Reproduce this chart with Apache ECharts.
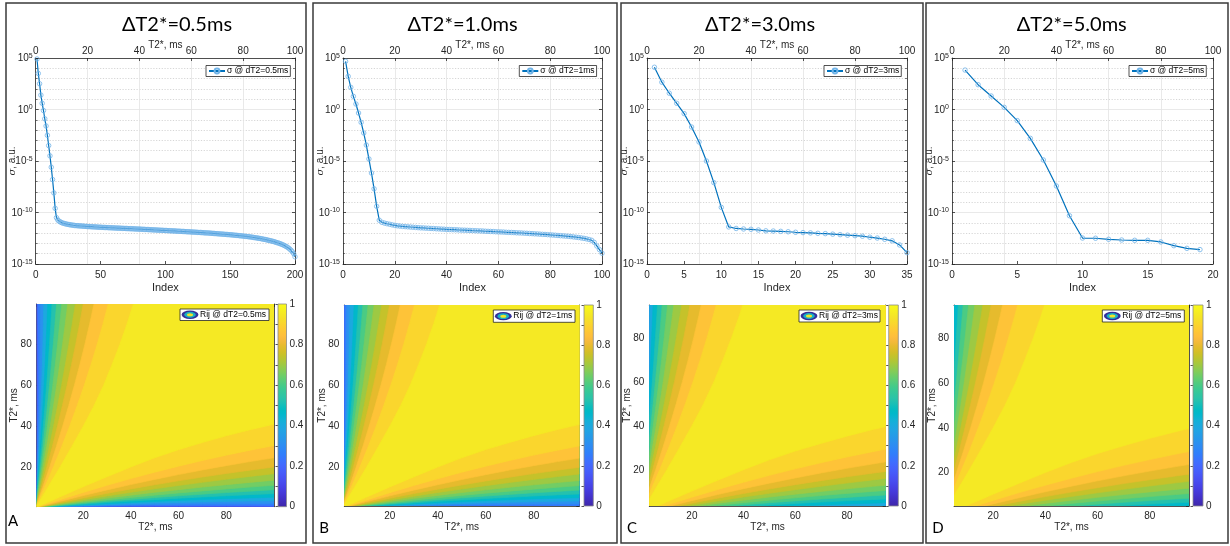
<!DOCTYPE html>
<html><head><meta charset="utf-8">
<script src="https://cdn.jsdelivr.net/npm/echarts@6/dist/echarts.min.js"></script>
<style>html,body{margin:0;padding:0;background:#fff}#c{width:1230px;height:546px}</style>
</head><body><div id="c"></div>
<script>
// ---------------- DATA ----------------
const panelTitles = ['ΔT2*=0.5ms', 'ΔT2*=1.0ms', 'ΔT2*=3.0ms', 'ΔT2*=5.0ms'];
const panelLetters = ['A', 'B', 'C', 'D'];
const sigmaLegend = ['σ @ dT2=0.5ms', 'σ @ dT2=1ms', 'σ @ dT2=3ms', 'σ @ dT2=5ms'];
const rijLegend = ['Rij @ dT2=0.5ms', 'Rij @ dT2=1ms', 'Rij @ dT2=3ms', 'Rij @ dT2=5ms'];
const indexAxisMax = [200, 100, 35, 20];
const indexAxisStep = [50, 20, 5, 5];
const t2TopAxis = [0, 100, 20];           // min, max, step of the T2* axis above the σ plots
const sigmaExpAxis = [-15, 5, 5];         // log10 range of σ axis and label step
const heatT2Min = [0.5, 1, 3.5, 5];
const heatT2Max = [100, 99, 95, 95];

// log10(σ), index 1..N
const sigmaLog10A = [4.9, 3.5, 2.5, 1.4, 0.6, -0.1, -0.9, -1.6, -2.5, -3.5, -4.5, -5.6, -6.8, -8.1, -9.6, -10.5,
  -10.72, -10.84, -10.92, -10.98, -11.03, -11.07, -11.1, -11.13, -11.16, -11.18, -11.2, -11.22, -11.24, -11.26,
  -11.27, -11.28, -11.29, -11.3, -11.31, -11.32, -11.33, -11.34, -11.35, -11.36,
  -11.37, -11.37, -11.38, -11.39, -11.4, -11.4, -11.41, -11.42, -11.43, -11.43,
  -11.44, -11.45, -11.45, -11.46, -11.46, -11.47, -11.48, -11.48, -11.49, -11.49,
  -11.5, -11.51, -11.51, -11.52, -11.52, -11.53, -11.54, -11.54, -11.55, -11.55,
  -11.56, -11.57, -11.57, -11.58, -11.58, -11.59, -11.6, -11.6, -11.61, -11.61,
  -11.62, -11.63, -11.63, -11.64, -11.65, -11.65, -11.66, -11.67, -11.67, -11.68,
  -11.69, -11.69, -11.7, -11.71, -11.71, -11.72, -11.73, -11.73, -11.74, -11.75,
  -11.75, -11.76, -11.77, -11.77, -11.78, -11.79, -11.79, -11.8, -11.81, -11.82,
  -11.82, -11.83, -11.84, -11.84, -11.85, -11.86, -11.87, -11.87, -11.88, -11.89,
  -11.9, -11.9, -11.91, -11.92, -11.93, -11.94, -11.94, -11.95, -11.96, -11.97,
  -11.98, -11.98, -11.99, -12.0, -12.01, -12.02, -12.03, -12.04, -12.05, -12.06,
  -12.07, -12.08, -12.09, -12.1, -12.11, -12.12, -12.13, -12.14, -12.15, -12.16,
  -12.17, -12.18, -12.2, -12.21, -12.22, -12.23, -12.25, -12.26, -12.27, -12.29,
  -12.3, -12.32, -12.33, -12.35, -12.36, -12.38, -12.4, -12.42, -12.44, -12.46,
  -12.48, -12.5, -12.52, -12.55, -12.57, -12.6, -12.62, -12.65, -12.68, -12.71,
  -12.74, -12.77, -12.8, -12.84, -12.88, -12.92, -12.96, -13.0, -13.05, -13.1,
  -13.16, -13.22, -13.29, -13.36, -13.45, -13.55, -13.67, -13.82, -14.0, -14.3];
const sigmaLog10B = [4.68, 3.22, 2.15, 1.28, 0.53, -0.34, -1.25, -2.28, -3.45, -4.8, -6.17, -7.7, -9.4, -10.75,
  -10.95, -11.03, -11.09, -11.14, -11.2, -11.25,
  -11.29, -11.32, -11.35, -11.37, -11.39, -11.41, -11.43, -11.45, -11.47, -11.49,
  -11.5, -11.52, -11.53, -11.55, -11.56, -11.58, -11.59, -11.61, -11.62, -11.64,
  -11.65, -11.66, -11.67, -11.68, -11.7, -11.71, -11.72, -11.73, -11.74, -11.76,
  -11.77, -11.78, -11.79, -11.8, -11.82, -11.83, -11.84, -11.85, -11.87, -11.88,
  -11.89, -11.9, -11.92, -11.93, -11.94, -11.95, -11.97, -11.98, -11.99, -12.01,
  -12.02, -12.04, -12.05, -12.07, -12.08, -12.1, -12.12, -12.13, -12.15, -12.17,
  -12.19, -12.21, -12.23, -12.25, -12.27, -12.29, -12.31, -12.34, -12.37, -12.4,
  -12.43, -12.47, -12.51, -12.56, -12.62, -12.7, -12.9, -13.25, -13.6, -13.95];
const sigmaLog10C = [4.1, 2.65, 1.58, 0.6, -0.4, -1.7, -3.15, -5.0, -7.1, -9.5, -11.4,
  -11.55, -11.6, -11.63, -11.7, -11.78, -11.8, -11.83, -11.87, -11.92, -11.95, -11.98, -12.02,
  -12.05, -12.1, -12.15, -12.2, -12.25, -12.3, -12.4, -12.48, -12.6, -12.75, -13.15, -13.9];
const sigmaLog10D = [3.83, 2.41, 1.31, 0.21, -1.08, -2.8, -4.9, -7.43, -10.31, -12.48,
  -12.5, -12.6, -12.67, -12.7, -12.7, -12.86, -13.22, -13.48, -13.6];

// Rij contour levels and their boundary (below the diagonal: T2j at given T2i; symmetric above)
const rijX = [0, 10, 20, 30, 40, 50, 60, 70, 80, 90, 100];
const rijLevels = [0.3, 0.35, 0.4, 0.45, 0.5, 0.55, 0.6, 0.65, 0.7, 0.75, 0.8, 0.85, 0.9, 0.95];
const rijBound03 = [0, 0.2, 0.35, 0.45, 0.5, 0.52, 0.52, 0.5, 0.47, 0.43, 0.4];
const rijBound035 = [0, 0.3, 0.56, 0.77, 0.93, 1.03, 1.08, 1.1, 1.08, 1.04, 1.0];
const rijBound04 = [0, 0.41, 0.78, 1.1, 1.37, 1.58, 1.75, 1.86, 1.94, 1.98, 2.0];
const rijBound045 = [0, 0.54, 1.04, 1.49, 1.9, 2.26, 2.58, 2.85, 3.08, 3.26, 3.4];
const rijBound05 = [0, 0.7, 1.35, 1.97, 2.54, 3.07, 3.56, 4.01, 4.41, 4.78, 5.1];
const rijBound055 = [0, 0.88, 1.71, 2.51, 3.26, 3.97, 4.64, 5.27, 5.85, 6.4, 6.9];
const rijBound06 = [0, 1.09, 2.13, 3.12, 4.07, 4.98, 5.83, 6.64, 7.41, 8.13, 8.8];
const rijBound065 = [0, 1.33, 2.62, 3.85, 5.02, 6.15, 7.22, 8.25, 9.22, 10.13, 11];
const rijBound07 = [0, 1.64, 3.21, 4.72, 6.17, 7.55, 8.87, 10.12, 11.31, 12.44, 13.5];
const rijBound075 = [0, 2.0, 3.93, 5.79, 7.57, 9.28, 10.91, 12.46, 13.95, 15.36, 16.7];
const rijBound08 = [0, 2.45, 4.8, 7.05, 9.2, 11.25, 13.2, 15.05, 16.8, 18.45, 20];
const rijBound085 = [0, 3.04, 5.94, 8.72, 11.36, 13.88, 16.26, 18.52, 20.64, 22.64, 24.5];
const rijBound09 = [0, 3.84, 7.51, 11.0, 14.31, 17.45, 20.41, 23.2, 25.81, 28.24, 30.5];
const rijBound095 = [0, 5.2, 10.3, 15.2, 20.0, 24.5, 28.5, 32.0, 35.3, 38.3, 41.0];
const rijBounds = [rijBound03, rijBound035, rijBound04, rijBound045, rijBound05, rijBound055, rijBound06,
  rijBound065, rijBound07, rijBound075, rijBound08, rijBound085, rijBound09, rijBound095];
const colorbarRange = [0, 1, 0.1];

// ---------------- STYLE / LAYOUT ----------------
const FONT = 'Liberation Sans';
const AX = '#262626';
const L = {
  frame: [[6, 3, 300, 540], [313, 3, 304, 540], [621, 3, 302, 540], [926, 3, 302, 540]],
  title: [[177, 25], [462.5, 25], [760, 25], [1071.7, 25]],
  letter: [[13, 521], [324, 528], [632, 528], [938, 528]],
  topGrid: [[35.7, 58, 259.3, 206], [343, 58, 259, 206], [647, 58, 260, 206], [952, 58, 261, 206]],
  heatGrid: [[36.7, 304, 237.3, 202.7], [344.3, 305, 235, 201], [649.3, 305, 236.4, 201], [954, 305, 235, 201]],
  barGrid: [[278, 304, 8.5, 202.7], [584, 305, 9.3, 201], [888.7, 305, 9.6, 201], [1193, 305, 10, 201]],
  sigLeg: [[206, 65.5], [519.3, 65.5], [824, 65.5], [1129, 65.5]],
  rijLeg: [[180, 309, 89, 11.5], [493.3, 310, 81.7, 12.3], [799, 310, 81, 12], [1102.3, 310, 82, 12]]
};
// MATLAB parula colormap (64 steps)
const parula = [[0.2422,0.1504,0.6603],[0.2504,0.1650,0.7076],[0.2578,0.1818,0.7511],[0.2647,0.1978,0.7952],[0.2706,0.2147,0.8364],[0.2751,0.2342,0.8710],[0.2783,0.2559,0.8991],[0.2803,0.2782,0.9221],[0.2813,0.3006,0.9414],[0.2810,0.3228,0.9579],[0.2795,0.3447,0.9717],[0.2760,0.3667,0.9829],[0.2699,0.3892,0.9906],[0.2602,0.4123,0.9952],[0.2440,0.4358,0.9988],[0.2206,0.4603,0.9973],[0.1963,0.4847,0.9892],[0.1834,0.5074,0.9798],[0.1786,0.5289,0.9682],[0.1764,0.5499,0.9520],[0.1687,0.5703,0.9359],[0.1540,0.5902,0.9218],[0.1460,0.6091,0.9079],[0.1380,0.6276,0.8973],[0.1248,0.6459,0.8883],[0.1113,0.6635,0.8763],[0.0952,0.6798,0.8598],[0.0689,0.6948,0.8394],[0.0297,0.7082,0.8163],[0.0036,0.7203,0.7917],[0.0067,0.7312,0.7660],[0.0433,0.7411,0.7394],[0.0964,0.7500,0.7120],[0.1408,0.7584,0.6842],[0.1717,0.7670,0.6554],[0.1938,0.7758,0.6251],[0.2161,0.7843,0.5923],[0.2470,0.7918,0.5567],[0.2906,0.7973,0.5188],[0.3406,0.8008,0.4789],[0.3909,0.8029,0.4354],[0.4456,0.8024,0.3909],[0.5044,0.7993,0.3480],[0.5616,0.7942,0.3045],[0.6174,0.7876,0.2612],[0.6720,0.7793,0.2227],[0.7242,0.7698,0.1910],[0.7738,0.7598,0.1646],[0.8203,0.7498,0.1535],[0.8634,0.7406,0.1596],[0.9035,0.7330,0.1774],[0.9393,0.7288,0.2100],[0.9728,0.7298,0.2394],[0.9956,0.7434,0.2371],[0.9970,0.7659,0.2199],[0.9952,0.7893,0.2028],[0.9892,0.8136,0.1885],[0.9786,0.8386,0.1766],[0.9676,0.8639,0.1643],[0.9610,0.8890,0.1537],[0.9597,0.9135,0.1423],[0.9628,0.9373,0.1265],[0.9691,0.9606,0.1064],[0.9769,0.9839,0.0805]];
function parulaColor(t) {
  const i = Math.max(0, Math.min(63, Math.round(t * 63)));
  const c = parula[i];
  return 'rgb(' + c.map(v => Math.round(v * 255)).join(',') + ')';
}
// colour position (0..1 on the colorbar) used to paint each band: base band, then one per level
const bandColorPos = [0.12, 0.18, 0.25, 0.32, 0.39, 0.46, 0.53, 0.6, 0.65, 0.7, 0.75, 0.8, 0.85, 0.9, 0.95];
const bandColors = bandColorPos.map(parulaColor);
const parulaStops = parula.map((c, i) => ({offset: 1 - i / 63, color: 'rgb(' + c.map(v => Math.round(v * 255)).join(',') + ')'})).reverse();

// ---------------- BUILD ----------------
const sigmaSeries = [sigmaLog10A, sigmaLog10B, sigmaLog10C, sigmaLog10D];
const grids = [], xAxes = [], yAxes = [], series = [], legends = [], graphics = [];
const lbl = {fontSize: 10, color: AX, fontFamily: FONT};
const line = {show: true, onZero: false, lineStyle: {color: AX, width: 0.8}};
const tick = {show: true, inside: true, length: 3, lineStyle: {color: AX, width: 0.8}};
const supRich = {
  b: {fontSize: 10, color: AX, fontFamily: FONT, verticalAlign: 'bottom', lineHeight: 11},
  s: {fontSize: 7, color: AX, fontFamily: FONT, verticalAlign: 'top', lineHeight: 8, padding: [0, 0, 5, 0]}
};

function heatRender(params, api) {
  const i = params.dataIndex;
  let pts;
  if (i === 0) {
    pts = [[0, 0], [100, 0], [100, 100], [0, 100]];
  } else {
    const ys = rijBounds[i - 1];
    const lower = rijX.map((x, j) => [x, ys[j]]);
    const upper = rijX.map((x, j) => [ys[j], x]).reverse();
    pts = lower.concat([[100, 100]], upper);
  }
  const cs = params.coordSys;
  return {
    type: 'polygon',
    shape: {points: pts.map(p => api.coord(p))},
    style: {fill: bandColors[i], stroke: bandColors[i], lineWidth: 0.6},
    clipPath: {type: 'rect', shape: {x: cs.x, y: cs.y, width: cs.width, height: cs.height}}
  };
}
function barRender(params, api) {
  const p0 = api.coord([0, 1]), p1 = api.coord([1, 0]);
  return {
    type: 'rect',
    shape: {x: p0[0], y: p0[1], width: p1[0] - p0[0], height: p1[1] - p0[1]},
    style: {fill: new echarts.graphic.LinearGradient(0, 0, 0, 1, parulaStops), stroke: '#8c8c8c', lineWidth: 0.8}
  };
}

for (let p = 0; p < 4; p++) {
  const tg = L.topGrid[p], hg = L.heatGrid[p], bg = L.barGrid[p];
  const gTop = grids.length; grids.push({left: tg[0], top: tg[1], width: tg[2], height: tg[3]});
  const gHeat = grids.length; grids.push({left: hg[0], top: hg[1], width: hg[2], height: hg[3]});
  const gBar = grids.length; grids.push({left: bg[0], top: bg[1], width: bg[2], height: bg[3]});

  // ---- sigma plot
  const xi = xAxes.length;
  xAxes.push({gridIndex: gTop, type: 'value', min: 0, max: indexAxisMax[p], interval: indexAxisStep[p],
    axisLine: line, axisTick: tick, axisLabel: Object.assign({margin: 6}, lbl), splitLine: {show: false},
    name: 'Index', nameLocation: 'middle', nameGap: 18, nameMoveOverlap: false,
    nameTextStyle: {fontSize: 11, color: AX, fontFamily: FONT}});
  xAxes.push({gridIndex: gTop, type: 'value', position: 'top', min: t2TopAxis[0], max: t2TopAxis[1], interval: t2TopAxis[2],
    axisLine: line, axisTick: tick, axisLabel: Object.assign({margin: 2}, lbl),
    splitLine: {show: true, lineStyle: {color: '#e3e3e3', width: 0.8}},
    name: 'T2*, ms', nameLocation: 'middle', nameGap: 8, nameMoveOverlap: false,
    nameTextStyle: {fontSize: 10, color: AX, fontFamily: FONT}});
  const yi = yAxes.length;
  yAxes.push({gridIndex: gTop, type: 'value', min: sigmaExpAxis[0], max: sigmaExpAxis[1], interval: sigmaExpAxis[2],
    axisLine: line, axisTick: tick,
    minorTick: {show: true, splitNumber: 5, length: 2, lineStyle: {color: AX, width: 0.6}},
    axisLabel: {margin: 3, formatter: v => '{b|10}{s|' + Math.round(v) + '}', rich: supRich},
    splitLine: {show: true, lineStyle: {color: '#e3e3e3', width: 0.8}},
    minorSplitLine: {show: true, lineStyle: {color: '#c4c4c4', width: 0.7, type: [1.2, 1.6]}},
    name: '{i|σ}, a.u.', nameLocation: 'middle', nameGap: 18, nameRotate: 90, nameMoveOverlap: false,
    nameTextStyle: {fontSize: 10, color: AX, fontFamily: FONT, rich: {i: {fontSize: 10, fontStyle: 'italic', color: AX, fontFamily: 'DejaVu Serif'}}}});
  yAxes.push({gridIndex: gTop, type: 'value', position: 'right', min: sigmaExpAxis[0], max: sigmaExpAxis[1], interval: sigmaExpAxis[2],
    axisLine: line, axisTick: tick, minorTick: {show: true, splitNumber: 5, length: 2, lineStyle: {color: AX, width: 0.6}},
    axisLabel: {show: false}, splitLine: {show: false}});
  series.push({type: 'line', name: sigmaLegend[p], xAxisIndex: xi, yAxisIndex: yi,
    data: sigmaSeries[p].map((v, i) => [i + 1, v]),
    symbol: 'circle', symbolSize: 4.5, showAllSymbol: true,
    lineStyle: {color: '#0072BD', width: 1.2},
    itemStyle: {color: 'rgba(255,255,255,0)', borderColor: '#72b4e8', borderWidth: 0.8},
    z: 3});
  legends.push({data: [sigmaLegend[p]], left: L.sigLeg[p][0], top: L.sigLeg[p][1], orient: 'horizontal',
    backgroundColor: '#fff', borderColor: AX, borderWidth: 0.8, padding: [1, 2, 1, 2],
    itemWidth: 16, itemHeight: 6, itemGap: 4, selectedMode: false,
    textStyle: {fontSize: 8.5, color: '#000', fontFamily: FONT, padding: [0, 0, 0, -3]}});

  // ---- Rij map
  const hx = xAxes.length;
  xAxes.push({gridIndex: gHeat, type: 'value', min: heatT2Min[p], max: heatT2Max[p], splitNumber: 5,
    axisLine: line, axisTick: tick, axisLabel: Object.assign({margin: 5, showMinLabel: false, showMaxLabel: false}, lbl),
    splitLine: {show: false}, name: 'T2*, ms', nameLocation: 'middle', nameGap: 16, nameMoveOverlap: false,
    nameTextStyle: {fontSize: 10, color: AX, fontFamily: FONT}});
  xAxes.push({gridIndex: gHeat, type: 'value', position: 'top', min: heatT2Min[p], max: heatT2Max[p], splitNumber: 5,
    axisLine: line, axisTick: tick, axisLabel: {show: false}, splitLine: {show: false}});
  const hy = yAxes.length;
  yAxes.push({gridIndex: gHeat, type: 'value', min: heatT2Min[p], max: heatT2Max[p], splitNumber: 5,
    axisLine: line, axisTick: tick, axisLabel: Object.assign({margin: 5, showMinLabel: false, showMaxLabel: false}, lbl),
    splitLine: {show: false}, name: 'T2*, ms', nameLocation: 'middle', nameGap: 17, nameRotate: 90, nameMoveOverlap: false,
    nameTextStyle: {fontSize: 10, color: AX, fontFamily: FONT}});
  yAxes.push({gridIndex: gHeat, type: 'value', position: 'right', min: heatT2Min[p], max: heatT2Max[p], splitNumber: 5,
    axisLine: line, axisTick: tick, axisLabel: {show: false}, splitLine: {show: false}});
  series.push({type: 'custom', xAxisIndex: hx, yAxisIndex: hy, silent: true,
    data: bandColors.map((c, i) => i), renderItem: heatRender, z: 1});

  // ---- colorbar
  const bx = xAxes.length;
  xAxes.push({gridIndex: gBar, type: 'value', min: 0, max: 1, show: false});
  const by = yAxes.length;
  yAxes.push({gridIndex: gBar, type: 'value', position: 'right', min: colorbarRange[0], max: colorbarRange[1], interval: colorbarRange[2],
    axisLine: {show: false}, axisTick: {show: true, inside: true, length: 2.5, lineStyle: {color: AX, width: 0.8}},
    axisLabel: Object.assign({margin: 3, formatter: v => (Math.round(v * 10) % 2 === 0 ? String(+v.toFixed(1)) : '')}, lbl),
    splitLine: {show: false}});
  series.push({type: 'custom', xAxisIndex: bx, yAxisIndex: by, silent: true, data: [[0, 0]], renderItem: barRender, z: 1});

  // ---- graphics
  const fr = L.frame[p];
  graphics.push({type: 'rect', shape: {x: fr[0], y: fr[1], width: fr[2], height: fr[3]},
    style: {fill: 'none', stroke: '#3a3a3a', lineWidth: 1.5}, z: 100, silent: true});
  graphics.push({type: 'text', x: L.title[p][0], y: L.title[p][1], z: 100, silent: true,
    style: {text: panelTitles[p], fontSize: 20, fontFamily: 'Lato', fill: '#000', textAlign: 'center', align: 'center', textVerticalAlign: 'middle', verticalAlign: 'middle'}});
  graphics.push({type: 'text', x: L.letter[p][0], y: L.letter[p][1], z: 100, silent: true,
    style: {text: panelLetters[p], fontSize: 15, fontFamily: 'Lato', fill: '#000', textAlign: 'center', align: 'center', textVerticalAlign: 'middle', verticalAlign: 'middle'}});
  const rl = L.rijLeg[p];
  const cy = rl[1] + rl[3] / 2, cx = rl[0] + 10;
  graphics.push({type: 'group', z: 100, silent: true, children: [
    {type: 'rect', shape: {x: rl[0], y: rl[1], width: rl[2], height: rl[3]}, style: {fill: '#fff', stroke: AX, lineWidth: 0.8}, z: 100},
    {type: 'circle', x: cx, y: cy, scaleX: 2.0, shape: {cx: 0, cy: 0, r: 4.2}, style: {fill: '#33309a'}, z: 101},
    {type: 'circle', x: cx, y: cy, scaleX: 2.0, shape: {cx: 0, cy: 0, r: 2.9}, style: {fill: '#1ab0c4'}, z: 102},
    {type: 'circle', x: cx, y: cy, scaleX: 2.0, shape: {cx: 0, cy: 0, r: 1.5}, style: {fill: '#efe52a'}, z: 103},
    {type: 'text', x: rl[0] + 20, y: cy, z: 104, style: {text: rijLegend[p], fontSize: 8.5, fontFamily: FONT, fill: '#000', textAlign: 'left', align: 'left', textVerticalAlign: 'middle', verticalAlign: 'middle'}}
  ]});
}

const chart = echarts.init(document.getElementById('c'), null, {renderer: 'canvas', width: 1230, height: 546});
chart.setOption({
  animation: false,
  backgroundColor: '#fff',
  grid: grids, xAxis: xAxes, yAxis: yAxes, series: series, legend: legends, graphic: graphics
});
</script>
</body></html>
